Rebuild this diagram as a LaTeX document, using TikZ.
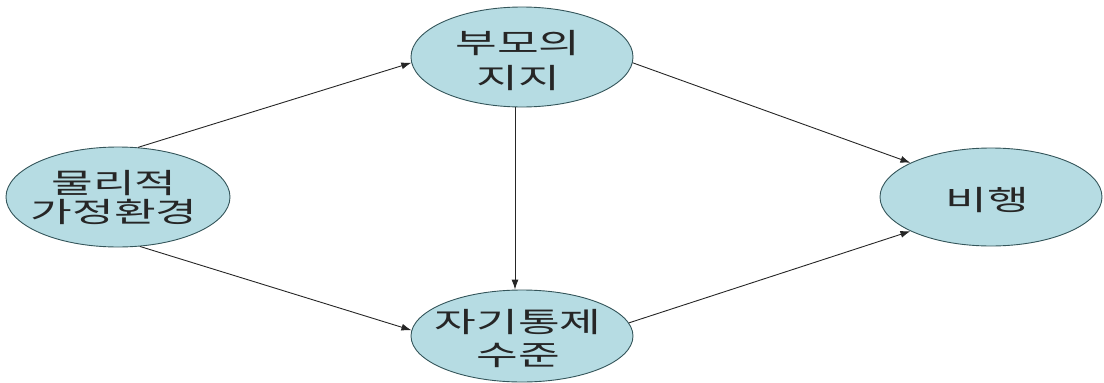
\documentclass[tikz,border=0pt]{standalone}
\usepackage{fontspec}
\usetikzlibrary{shapes.geometric,arrows.meta}
\newfontfamily\kr[FakeStretch=1.62]{Noto Sans CJK KR}
\definecolor{fillc}{HTML}{B6DCE3}
\definecolor{edgec}{HTML}{34555A}
\tikzset{
  ell/.style={ellipse, draw=edgec, line width=0.9pt, fill=fillc, inner sep=0pt},
  lbl/.style={align=center, inner sep=0pt, text=black!85, xshift=-4pt},
  arr/.style={-{Latex[length=10pt,width=7pt]}, line width=0.9pt, black!85},
}
\begin{document}
\begin{tikzpicture}[x=1pt,y=-1pt]
\useasboundingbox (0,0) rectangle (1104,383);
\node[ell, minimum width=224, minimum height=100,
  label={[lbl, font=\kr\fontsize{28}{29}\selectfont]center:{물리적\\가정환경}}] (phy) at (118,197) {};
\node[ell, minimum width=222, minimum height=100,
  label={[lbl, yshift=-4pt, font=\kr\fontsize{28}{35}\selectfont]center:{부모의\\지지}}] (sup) at (522,57) {};
\node[ell, minimum width=222, minimum height=92,
  label={[lbl, yshift=-3pt, font=\kr\fontsize{28}{33}\selectfont]center:{자기통제\\수준}}] (self) at (522,336) {};
\node[ell, minimum width=222, minimum height=98,
  label={[lbl, yshift=-3pt, font=\kr\fontsize{28}{33}\selectfont]center:{비행}}] (del) at (991,197) {};
\coordinate (vx) at (515,0);
\draw[arr] (phy.68) -- (sup.183);
\draw[arr] (phy.-66) -- (self.177);
\draw[arr] (sup.south -| vx) -- (self.north -| vx);
\draw[arr] (sup.-3) -- (del.157);
\draw[arr] (self.7) -- (del.203);
\end{tikzpicture}
\end{document}
